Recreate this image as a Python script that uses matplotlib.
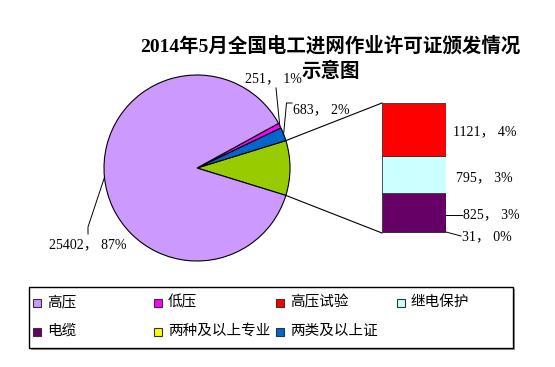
import numpy as np
import matplotlib
matplotlib.use('Agg')
import matplotlib.pyplot as plt
from matplotlib.patches import Rectangle

plt.rcParams['font.family'] = ['Liberation Serif', 'Noto Sans CJK SC', 'DejaVu Sans']
CJK = ['Noto Sans CJK SC', 'DejaVu Sans']
NUM = ['Liberation Serif', 'Noto Sans CJK SC']

# data
title1 = '2014年5月全国电工进网作业许可证颁发情况'
title2 = '示意图'
pie_names = ['高压', '低压', '两类及以上证']
pie_values = [25402, 251, 683]
pie_colors = ['#CC99FF', '#FF00FF', '#0066CC']
bar_names = ['高压试验', '继电保护', '电缆', '两种及以上专业']
bar_values = [1121, 795, 825, 31]
bar_colors = ['#FF0000', '#CCFFFF', '#660066', '#FFFF00']
other_color = '#99CC00'
legend_order = ['高压', '低压', '高压试验', '继电保护', '电缆', '两种及以上专业', '两类及以上证']

W, H = 555, 367
total = sum(pie_values) + sum(bar_values)
other = sum(bar_values)

def lab(v):
    return f'{v}， {round(100 * v / total)}%'

def Y(py):
    return H - py

fig = plt.figure(figsize=(W / 100, H / 100), dpi=100)
ax = fig.add_axes([0, 0, 1, 1])

# pie: other slice first, centred on the horizontal, then counter-clockwise
vals = [other, pie_values[2], pie_values[1], pie_values[0]]
cols = [other_color, pie_colors[2], pie_colors[1], pie_colors[0]]
cx, cy, r = 197, Y(168), 93
start = -other / total * 360 / 2
wedges, _ = ax.pie(vals, colors=cols, startangle=start, counterclock=True,
                   center=(cx, cy), radius=r, frame=True,
                   wedgeprops=dict(edgecolor='black', linewidth=0.8))
ax.set_xlim(0, W)
ax.set_ylim(0, H)
ax.axis('off')

def edge_pt(theta, rr=r):
    t = np.deg2rad(theta)
    return cx + rr * np.cos(t), cy + rr * np.sin(t)

def mid_pt(w):
    return edge_pt((w.theta1 + w.theta2) / 2)

# bar of the "other" slice
bx0, bx1, by0, by1 = 382, 446, 103, 233
axb = fig.add_axes([bx0 / W, Y(by1) / H, (bx1 - bx0) / W, (by1 - by0) / H])
bottom = 0
for v, c in zip(bar_values[::-1], bar_colors[::-1]):
    axb.bar(0.5, v, width=1, bottom=bottom, color=c, edgecolor='#333333', linewidth=0.6)
    bottom += v
axb.set_xlim(0, 1)
axb.set_ylim(0, other)
axb.axis('off')

# connector lines
p_top = edge_pt(wedges[0].theta2)
p_bot = edge_pt(wedges[0].theta1)
ax.plot([p_top[0], bx0], [p_top[1], Y(by0)], color='black', lw=0.8)
ax.plot([p_bot[0], bx0], [p_bot[1], Y(by1)], color='black', lw=0.8)

fs = 10
# pie labels
m = mid_pt(wedges[2])
ax.plot([276, m[0]], [Y(88), m[1]], color='black', lw=0.7)
ax.text(273, Y(79), lab(pie_values[1]), ha='center', va='center', fontsize=fs, family=NUM)

m = mid_pt(wedges[1])
ax.plot([292, 286.5, m[0]], [Y(103), Y(103), m[1]], color='black', lw=0.7)
ax.text(293, Y(110), lab(pie_values[2]), ha='left', va='center', fontsize=fs, family=NUM)

m = mid_pt(wedges[3])
ax.plot([88, 88, m[0]], [Y(234), Y(227), m[1]], color='black', lw=0.7)
ax.text(88, Y(245), lab(pie_values[0]), ha='center', va='center', fontsize=fs, family=NUM)

# bar labels
ax.text(453, Y(132), lab(bar_values[0]), ha='left', va='center', fontsize=fs, family=NUM)
ax.text(456, Y(178), lab(bar_values[1]), ha='left', va='center', fontsize=fs, family=NUM)
ax.plot([bx1, 462], [Y(215), Y(215)], color='black', lw=0.7)
ax.text(463, Y(215), lab(bar_values[2]), ha='left', va='center', fontsize=fs, family=NUM)
ax.plot([bx1, 461], [Y(232), Y(236)], color='black', lw=0.7)
ax.text(462, Y(237), lab(bar_values[3]), ha='left', va='center', fontsize=fs, family=NUM)

# title
fig.text(330 / W, Y(46) / H, title1, ha='center', va='center', fontsize=14, weight='bold', family=NUM)
fig.text(331 / W, Y(71) / H, title2, ha='center', va='center', fontsize=14, weight='bold', family=NUM)

# legend box
color_of = dict(zip(pie_names + bar_names, pie_colors + bar_colors))
lx0, ly0, lx1, ly1 = 29, 287, 513, 348
ax.add_patch(Rectangle((lx0 + 2, Y(ly1) - 2), lx1 - lx0, ly1 - ly0, facecolor='#999999', edgecolor='none'))
ax.add_patch(Rectangle((lx0, Y(ly1)), lx1 - lx0, ly1 - ly0, facecolor='white', edgecolor='black', lw=1.0))
col_x = [33, 154, 276, 397]
row_y = [303, 332]
for i, name in enumerate(legend_order):
    x = col_x[i % 4]
    y = row_y[i // 4]
    ax.add_patch(Rectangle((x, Y(y) - 4), 8, 8, facecolor=color_of[name], edgecolor='#333333', lw=0.8))
    ax.text(x + 14, Y(y) + 1, name, ha='left', va='center', fontsize=10.5, family=CJK)

fig.savefig('out.png', dpi=100)
